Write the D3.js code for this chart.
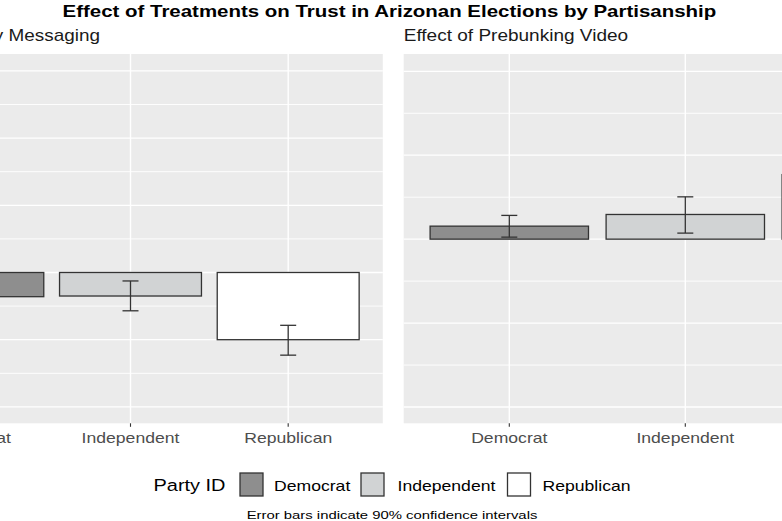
<!DOCTYPE html>
<html><head><meta charset="utf-8">
<script src="https://cdn.jsdelivr.net/npm/d3@7"></script>
<style>body{margin:0;background:#fff;overflow:hidden}</style></head>
<body>
<svg id="c" width="782" height="521"></svg>
<script>
// ---------------- data ----------------
const parties = ["Democrat", "Independent", "Republican"];
const panelTitles = ["Effect of Accuracy Messaging", "Effect of Prebunking Video"];
const messagingEffect = [-0.036, -0.035, -0.100];
const messagingLow = [-0.058, -0.057, -0.123];
const messagingHigh = [-0.014, -0.0126, -0.0786];
const prebunkEffect = [0.0155, 0.0294, 0.0769];
const prebunkLow = [0.0024, 0.0072, 0.050];
const prebunkHigh = [0.0283, 0.0504, 0.104];
const messagingDomain = [-0.2244, 0.3251];
const prebunkDomain = [-0.2194, 0.2206];
const gridBreaks = [-0.2, -0.15, -0.1, -0.05, 0, 0.05, 0.1, 0.15, 0.2, 0.25, 0.3];
const legendTitle = "Party ID";
const chartTitle = "Effect of Treatments on Trust in Arizonan Elections by Partisanship";
const caption = "Error bars indicate 90% confidence intervals";

// ---------------- styles / layout ----------------
const fills = ["#8e8e8e", "#d1d3d4", "#ffffff"];
const FONT = "'Liberation Sans', Arial, Helvetica, sans-serif";
const panelTop = 54, panelBottom = 423.3;
const panelsCfg = [
  {title: panelTitles[0], eff: messagingEffect, lo: messagingLow, hi: messagingHigh,
   dom: messagingDomain, x0: -121.8, x1: 382.8},
  {title: panelTitles[1], eff: prebunkEffect, lo: prebunkLow, hi: prebunkHigh,
   dom: prebunkDomain, x0: 403.7, x1: 966.9}
];

const svg = d3.select("#c");

function stretchText(parent, str, x, y, size, opts) {
  const t = parent.append("text")
    .attr("x", 0).attr("y", 0)
    .attr("font-family", FONT)
    .attr("font-size", size)
    .attr("font-weight", opts.bold ? "bold" : "normal")
    .attr("fill", opts.color || "#000")
    .attr("text-anchor", opts.anchor || "start")
    .text(str);
  let sx = opts.sx || 1;
  if (opts.width) {
    const w = t.node().getComputedTextLength();
    sx = opts.width / w;
  }
  t.attr("transform", `translate(${x},${y}) scale(${sx},1)`);
  return sx;
}

panelsCfg.forEach((p, pi) => {
  const g = svg.append("g");
  const x = d3.scalePoint().domain(parties).range([p.x0, p.x1]).padding(0.6);
  const step = x.step();
  const y = d3.scaleLinear().domain(p.dom).range([panelBottom, panelTop]);

  g.append("rect").attr("x", p.x0).attr("y", panelTop)
    .attr("width", p.x1 - p.x0).attr("height", panelBottom - panelTop)
    .attr("fill", "#ebebeb");

  const breaks = gridBreaks.filter(b => b >= p.dom[0] && b <= p.dom[1]);
  g.selectAll("line.h").data(breaks).join("line")
    .attr("x1", p.x0).attr("x2", p.x1)
    .attr("y1", d => y(d)).attr("y2", d => y(d))
    .attr("stroke", "#fff")
    .attr("stroke-width", d => Math.abs(Math.round(d * 100)) % 10 === 0 ? 1.3 : 0.9);

  g.selectAll("line.v").data(parties).join("line")
    .attr("x1", d => x(d)).attr("x2", d => x(d))
    .attr("y1", panelTop).attr("y2", panelBottom)
    .attr("stroke", "#fff").attr("stroke-width", 1.4);

  // bars
  g.selectAll("rect.bar").data(parties).join("rect")
    .attr("x", d => x(d) - step * 0.45)
    .attr("width", step * 0.9)
    .attr("y", (d, i) => Math.min(y(0), y(p.eff[i])))
    .attr("height", (d, i) => Math.abs(y(0) - y(p.eff[i])))
    .attr("fill", (d, i) => fills[i])
    .attr("stroke", "#333").attr("stroke-width", 1.3);

  // error bars
  const cap = 8;
  const eb = g.selectAll("g.eb").data(parties).join("g").attr("stroke", "#333").attr("stroke-width", 1.3);
  eb.append("line").attr("x1", d => x(d)).attr("x2", d => x(d))
    .attr("y1", (d, i) => y(p.lo[i])).attr("y2", (d, i) => y(p.hi[i]));
  eb.append("line").attr("x1", d => x(d) - cap).attr("x2", d => x(d) + cap)
    .attr("y1", (d, i) => y(p.lo[i])).attr("y2", (d, i) => y(p.lo[i]));
  eb.append("line").attr("x1", d => x(d) - cap).attr("x2", d => x(d) + cap)
    .attr("y1", (d, i) => y(p.hi[i])).attr("y2", (d, i) => y(p.hi[i]));

  // x axis ticks + labels
  g.selectAll("line.tick").data(parties).join("line")
    .attr("x1", d => x(d)).attr("x2", d => x(d))
    .attr("y1", panelBottom).attr("y2", panelBottom + 3.5)
    .attr("stroke", "#333").attr("stroke-width", 1.1);
  parties.forEach(d => stretchText(g, d, x(d), 443, 14.2, {anchor: "middle", color: "#4d4d4d", sx: 1.24}));

  // strip text
  if (pi === 0) stretchText(g, p.title, 100, 40.7, 15.9, {anchor: "end", color: "#1a1a1a", sx: 1.19});
  else stretchText(g, p.title, 403.7, 40.7, 15.9, {anchor: "start", color: "#1a1a1a", width: 224.6});
});

// title
stretchText(svg, chartTitle, 389.4, 16.7, 16.3, {anchor: "middle", bold: true, color: "#000", width: 653.3});

// legend
const lg = svg.append("g");
stretchText(lg, legendTitle, 153.5, 491, 17.3, {anchor: "start", color: "#000", width: 72});
const keyX = [240, 361, 507.5];
const keyLabX = [274, 397.5, 542.5];
parties.forEach((d, i) => {
  lg.append("rect").attr("x", keyX[i]).attr("y", 473).attr("width", 23).attr("height", 23)
    .attr("fill", fills[i]).attr("stroke", "#333").attr("stroke-width", 1.3);
  stretchText(lg, d, keyLabX[i], 491, 14.2, {anchor: "start", color: "#000", sx: 1.24});
});

// caption
stretchText(svg, caption, 392, 519, 11.5, {anchor: "middle", color: "#000", width: 291});
</script>
</body></html>
